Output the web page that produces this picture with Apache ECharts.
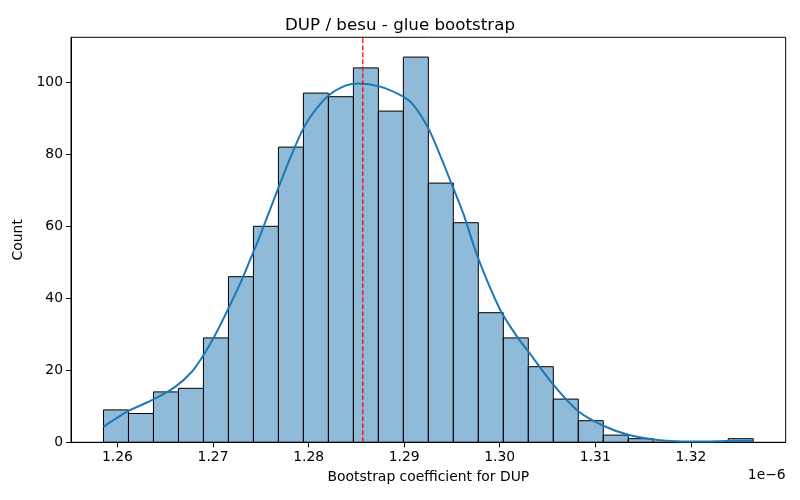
<!DOCTYPE html>
<html>
<head>
<meta charset="utf-8">
<script src="https://cdn.jsdelivr.net/npm/echarts@6/dist/echarts.min.js"></script>
<style>html,body{margin:0;padding:0;background:#fff;}#c{width:800px;height:500px;}</style>
</head>
<body>
<div id="c"></div>
<script>
// ---- data (x values in units of 1e-6) ----
var dataMin = 1.258536;
var dataMax = 1.326527;
var counts = [9, 8, 14, 15, 29, 46, 60, 82, 97, 96, 104, 92, 107, 72, 61, 36, 29, 21, 12, 6, 2, 1, 0, 0, 0, 1];
var kdeX = [1.258536, 1.261151, 1.263766, 1.266036, 1.267782, 1.268996, 1.270220, 1.271611, 1.273013, 1.274226, 1.274749,
            1.277019, 1.278065, 1.279456, 1.280858, 1.282249, 1.283996, 1.285209, 1.287479, 1.289916, 1.290962,
            1.292531, 1.293755, 1.295146, 1.296192, 1.297762, 1.300031, 1.301778, 1.303169, 1.305607, 1.308222,
            1.310837, 1.313452, 1.316067, 1.318515, 1.320952, 1.323745, 1.326527];
var kdeY = [4.3, 8.7, 11.9, 15.4, 19.6, 24.2, 29.8, 37.2, 45.1, 52.9, 56.2,
            71.9, 78.9, 87.2, 92.8, 96.7, 99.2, 99.7, 98.8, 96.0, 93.7,
            87.2, 79.8, 70.6, 63.5, 51.0, 36.9, 29.5, 24.6, 16.0, 8.6,
            4.6, 2.1, 0.8, 0.3, 0.2, 0.35, 0.4];
var meanValue = 1.285669;
var xTicks = [1.26, 1.27, 1.28, 1.29, 1.30, 1.31, 1.32];
var yTicks = [0, 20, 40, 60, 80, 100];
var yMax = 112.5;
var titleText = 'DUP / besu - glue bootstrap';
var xLabel = 'Bootstrap coefficient for DUP';
var yLabel = 'Count';
var offsetText = '1e\u22126';

// ---- build ----
var binWidth = (dataMax - dataMin) / counts.length;
var bins = counts.map(function (c, i) {
  return [dataMin + i * binWidth, dataMin + (i + 1) * binWidth, c];
});
var kde = kdeX.map(function (x, i) { return [x, kdeY[i]]; });
var pad = (dataMax - dataMin) * 0.05;

var chart = echarts.init(document.getElementById('c'), null, {renderer: 'canvas'});
var font = 'DejaVu Sans';
chart.setOption({
  animation: false,
  backgroundColor: '#ffffff',
  textStyle: {fontFamily: font},
  title: {
    text: titleText, left: 'center', top: 12,
    textStyle: {fontFamily: font, fontSize: 16.7, fontWeight: 'normal', color: '#000'}
  },
  grid: {left: 71, right: 14.3, top: 37.3, bottom: 57.7, show: true, borderColor: '#000', borderWidth: 1, backgroundColor: 'transparent'},
  xAxis: {
    type: 'value', min: dataMin - pad, max: dataMax + pad,
    name: xLabel, nameLocation: 'middle', nameGap: 28,
    nameTextStyle: {fontFamily: font, fontSize: 13.9, color: '#000'},
    axisLine: {show: true, onZero: false, lineStyle: {color: '#000', width: 1}},
    axisTick: {show: true, length: 5, customValues: xTicks, lineStyle: {color: '#000'}},
    axisLabel: {customValues: xTicks, fontFamily: font, fontSize: 13.9, color: '#000', margin: 8,
      formatter: function (v) { return v.toFixed(2); }},
    splitLine: {show: false}
  },
  yAxis: {
    type: 'value', min: 0, max: yMax,
    name: yLabel, nameLocation: 'middle', nameGap: 35, nameRotate: 90,
    nameTextStyle: {fontFamily: font, fontSize: 13.9, color: '#000'},
    axisLine: {show: true, lineStyle: {color: '#000', width: 1}},
    axisTick: {show: true, length: 5, customValues: yTicks, lineStyle: {color: '#000'}},
    axisLabel: {customValues: yTicks, fontFamily: font, fontSize: 13.9, color: '#000', margin: 8},
    splitLine: {show: false}
  },
  graphic: [{
    type: 'text', right: 14.3, top: 468,
    style: {text: offsetText, fontFamily: font, fontSize: 13.9, fill: '#000', textAlign: 'right'}
  }],
  series: [{
    type: 'custom',
    data: bins,
    encode: {x: [0, 1], y: 2},
    renderItem: function (params, api) {
      var p0 = api.coord([api.value(0), api.value(2)]);
      var p1 = api.coord([api.value(1), 0]);
      return {
        type: 'rect',
        shape: {x: p0[0], y: p0[1], width: p1[0] - p0[0], height: p1[1] - p0[1]},
        style: {fill: 'rgba(31,119,180,0.5)', stroke: '#000', lineWidth: 1}
      };
    },
    z: 2
  }, {
    type: 'line',
    data: kde,
    smooth: 0.3,
    showSymbol: false,
    lineStyle: {color: '#1f77b4', width: 2},
    z: 3
  }, {
    type: 'line',
    data: [[meanValue, 0], [meanValue, yMax]],
    showSymbol: false,
    silent: true,
    lineStyle: {color: '#ff0000', type: [5, 2], width: 1.3},
    z: 4
  }]
});
</script>
</body>
</html>
